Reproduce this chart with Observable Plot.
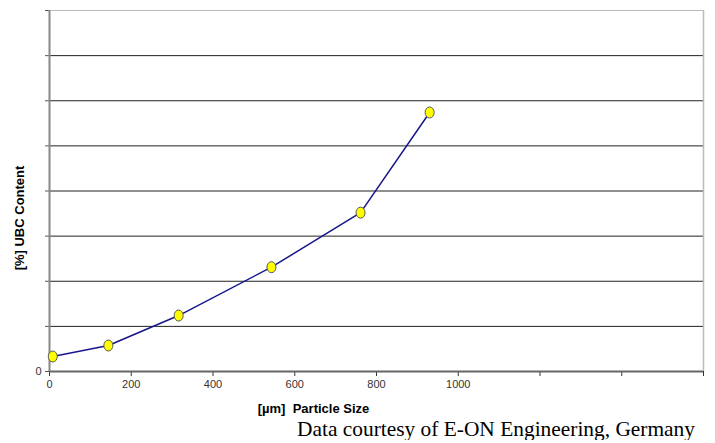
<!DOCTYPE html>
<html>
<head>
<meta charset="utf-8">
<script src="https://cdn.jsdelivr.net/npm/d3@7"></script>
<script src="https://cdn.jsdelivr.net/npm/@observablehq/plot@0.6"></script>
<style>
  html, body { margin: 0; padding: 0; background: #fff; }
  #caption { font-family: "Liberation Serif", "Times New Roman", serif; font-size: 21.4px; color: #000;
             text-align: right; width: 715px; box-sizing: border-box; padding-right: 20px; margin-top: 0; line-height: 22px; white-space: nowrap; }
</style>
</head>
<body>
<div id="chart"></div>
<div id="caption">Data courtesy of E-ON Engineering, Germany</div>
<script>
const particleSize = [8, 144, 316, 543, 761, 930];
const ubcContent = [1.66, 2.88, 6.2, 11.56, 17.6, 28.7];
const xTicks = [0, 200, 400, 600, 800, 1000, 1200, 1400, 1600];
const xTickLabels = [0, 200, 400, 600, 800, 1000];
const yTicks = [0, 5, 10, 15, 20, 25, 30, 35, 40];
const yTickLabels = [0];

const data = particleSize.map((x, i) => ({x, y: ubcContent[i]}));

const chart = Plot.plot({
  width: 715,
  height: 418,
  marginLeft: 49,
  marginRight: 12,
  marginTop: 10,
  marginBottom: 47,
  style: {fontFamily: "Arial, 'Liberation Sans', sans-serif", fontSize: "11px", background: "#fff", color: "#333"},
  x: {domain: [0, 1600]},
  y: {domain: [0, 40]},
  marks: [
    Plot.ruleY(yTicks.filter(d => d > 0 && d < 40), {stroke: "#222", strokeWidth: 1}),
    Plot.ruleY([40], {stroke: "#bbb", strokeWidth: 1}),
    Plot.ruleX([1600], {stroke: "#bbb", strokeWidth: 1.5}),
    Plot.axisY({ticks: yTicks, tickSize: 4, tickPadding: 4, stroke: "#555",
      tickFormat: d => yTickLabels.includes(d) ? String(d) : "", label: null}),
    Plot.axisX({ticks: xTicks, tickSize: 5, tickPadding: 4, stroke: "#333",
      tickFormat: d => xTickLabels.includes(d) ? String(d) : "", label: null}),
    Plot.ruleX([0], {stroke: "#888", strokeWidth: 2}),
    Plot.ruleY([0], {stroke: "#666", strokeWidth: 2}),
    Plot.line(data, {x: "x", y: "y", curve: "linear", stroke: "#16168a", strokeWidth: 1.5}),
    Plot.dot(data, {x: "x", y: "y", r: 4.5, fill: "#ffff00", stroke: "#555", strokeWidth: 1, className: "markers"}),
    Plot.text(["[%] UBC Content"], {frameAnchor: "left", textAnchor: "middle", lineAnchor: "middle", rotate: -90, dx: -30, dy: 27, fontWeight: "bold", fontSize: 13, fill: "#000"}),
    Plot.text(["[µm]\u00a0\u00a0Particle Size"], {frameAnchor: "bottom", textAnchor: "middle", dx: -63, dy: 41, fontWeight: "bold", fontSize: 13, fill: "#000"})
  ]
});
document.getElementById("chart").appendChild(chart);

// turn the round markers into upright ellipses like the original
chart.querySelectorAll(".markers circle").forEach(c => {
  const e = document.createElementNS("http://www.w3.org/2000/svg", "ellipse");
  e.setAttribute("cx", c.getAttribute("cx"));
  e.setAttribute("cy", c.getAttribute("cy"));
  e.setAttribute("rx", 4.5);
  e.setAttribute("ry", 5.5);
  c.replaceWith(e);
});
</script>
</body>
</html>
